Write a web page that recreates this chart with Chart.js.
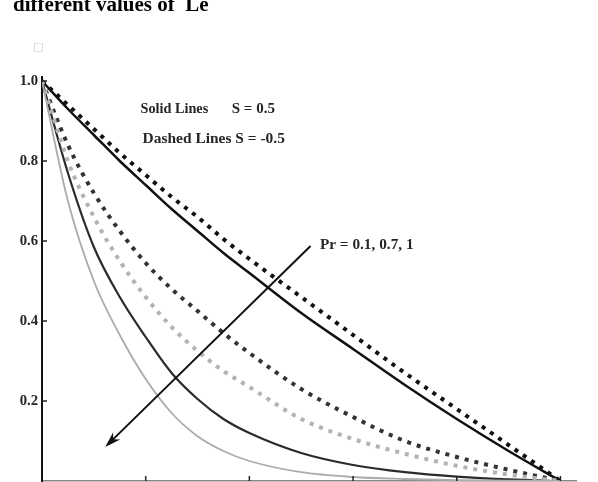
<!DOCTYPE html>
<html>
<head>
<meta charset="utf-8">
<script src="https://cdn.jsdelivr.net/npm/chart.js@4/dist/chart.umd.min.js"></script>
<style>
  html, body { margin: 0; padding: 0; background: #fff; }
  #wrap { width: 598px; height: 482px; position: relative; }
</style>
</head>
<body>
<div id="wrap"><canvas id="profileChart"></canvas></div>
<script>
// eta values where the curves were read
const etaValues = [0, 0.25, 0.5, 0.75, 1, 1.25, 1.5, 1.75, 2, 2.5, 3, 3.5, 4, 4.5, 5];

// S = 0.5 (solid lines), Pr = 0.1, 0.7, 1
const solidPr01 = [1.0, 0.93, 0.865, 0.80, 0.74, 0.68, 0.625, 0.57, 0.52, 0.42, 0.33, 0.24, 0.155, 0.075, 0];
const solidPr07 = [1.0, 0.77, 0.585, 0.46, 0.36, 0.27, 0.205, 0.155, 0.12, 0.07, 0.04, 0.022, 0.011, 0.004, 0];
const solidPr1  = [1.0, 0.70, 0.50, 0.365, 0.255, 0.17, 0.112, 0.075, 0.05, 0.022, 0.01, 0.005, 0.002, 0.001, 0];

// S = -0.5 (dashed lines), Pr = 0.1, 0.7, 1
const dashedPr01 = [1.0, 0.94, 0.88, 0.82, 0.765, 0.71, 0.66, 0.605, 0.555, 0.46, 0.365, 0.27, 0.18, 0.09, 0];
const dashedPr07 = [1.0, 0.84, 0.72, 0.625, 0.545, 0.48, 0.425, 0.37, 0.32, 0.23, 0.16, 0.10, 0.06, 0.028, 0];
const dashedPr1  = [1.0, 0.80, 0.66, 0.55, 0.46, 0.385, 0.325, 0.275, 0.235, 0.155, 0.105, 0.068, 0.038, 0.016, 0];

const yTickValues = [0.2, 0.4, 0.6, 0.8, 1.0];
const xTickValues = [1, 2, 3, 4, 5];

function toPoints(values) {
    return etaValues.map(function(x, i) { return { x: x, y: values[i] }; });
}

function makeSet(label, values, color, width, dashed) {
    return {
        label: label,
        data: toPoints(values),
        borderColor: color,
        borderWidth: width,
        borderDash: dashed ? [4, 6] : [],
        pointRadius: 0,
        fill: false,
        cubicInterpolationMode: 'monotone'
    };
}

// bold serif text, slightly narrowed like the original figure
function boldText(ctx, txt, px, py, size, sx, align) {
    ctx.save();
    ctx.translate(px, py);
    ctx.scale(sx, 1);
    ctx.font = 'bold ' + size + 'px "Liberation Serif", serif';
    ctx.fillStyle = '#262626';
    ctx.textBaseline = 'middle';
    ctx.textAlign = align || 'left';
    ctx.fillText(txt, 0, 0);
    ctx.restore();
}

// tick labels, arrow, labels and small axis ticks
const extras = {
    id: 'extras',
    afterDraw(c) {
        const ctx = c.ctx;
        const xs = c.scales.x, ys = c.scales.y;
        const area = c.chartArea;
        ctx.save();

        // y tick labels and inner ticks
        ctx.strokeStyle = '#222';
        ctx.lineWidth = 1.5;
        yTickValues.forEach(function(v) {
            const py = ys.getPixelForValue(v);
            ctx.beginPath(); ctx.moveTo(area.left, py); ctx.lineTo(area.left + 5, py); ctx.stroke();
            boldText(ctx, v.toFixed(1), area.left - 4, py, 14, 1.05, 'right');
        });
        xTickValues.forEach(function(v) {
            const px = xs.getPixelForValue(v);
            ctx.beginPath(); ctx.moveTo(px, area.bottom); ctx.lineTo(px, area.bottom - 5); ctx.stroke();
        });

        // arrow
        const x0 = xs.getPixelForValue(2.59), y0 = ys.getPixelForValue(0.5875);
        const x1 = xs.getPixelForValue(0.61), y1 = ys.getPixelForValue(0.085);
        const ang = Math.atan2(y1 - y0, x1 - x0);
        ctx.strokeStyle = '#111';
        ctx.lineWidth = 2;
        ctx.beginPath(); ctx.moveTo(x0, y0); ctx.lineTo(x1 - 8 * Math.cos(ang), y1 - 8 * Math.sin(ang)); ctx.stroke();
        ctx.fillStyle = '#111';
        ctx.beginPath();
        ctx.moveTo(x1, y1);
        ctx.lineTo(x1 - 16 * Math.cos(ang) + 5 * Math.sin(ang), y1 - 16 * Math.sin(ang) - 5 * Math.cos(ang));
        ctx.lineTo(x1 - 11 * Math.cos(ang), y1 - 11 * Math.sin(ang));
        ctx.lineTo(x1 - 16 * Math.cos(ang) - 5 * Math.sin(ang), y1 - 16 * Math.sin(ang) + 5 * Math.cos(ang));
        ctx.closePath();
        ctx.fill();

        // texts
        boldText(ctx, 'Solid Lines', xs.getPixelForValue(0.95), ys.getPixelForValue(0.93), 15, 0.95);
        boldText(ctx, 'S = 0.5', xs.getPixelForValue(1.83), ys.getPixelForValue(0.93), 15, 1.0);
        boldText(ctx, 'Dashed Lines S = -0.5', xs.getPixelForValue(0.97), ys.getPixelForValue(0.855), 15, 1.03);
        boldText(ctx, 'Pr = 0.1, 0.7, 1', xs.getPixelForValue(2.68), ys.getPixelForValue(0.59), 15, 1.02);

        // cut-off caption at the top
        ctx.font = 'bold 21px "Liberation Serif", serif';
        ctx.fillStyle = '#000';
        ctx.textAlign = 'left';
        ctx.textBaseline = 'alphabetic';
        ctx.fillText('different values of  Le', 13, 11);

        // axis label box
        ctx.font = '11px "DejaVu Sans"';
        ctx.fillStyle = '#c8c8c8';
        ctx.fillText('□', 33, 50);
        ctx.restore();
    }
};

const chart = new Chart(document.getElementById('profileChart'), {
    type: 'line',
    data: {
        datasets: [
            makeSet('S = 0.5, Pr = 1', solidPr1, '#ababab', 1.8, false),
            makeSet('S = -0.5, Pr = 1', dashedPr1, '#b3b3b3', 4, true),
            makeSet('S = 0.5, Pr = 0.7', solidPr07, '#2b2b2b', 2.2, false),
            makeSet('S = -0.5, Pr = 0.7', dashedPr07, '#333', 4, true),
            makeSet('S = 0.5, Pr = 0.1', solidPr01, '#111', 2.5, false),
            makeSet('S = -0.5, Pr = 0.1', dashedPr01, '#111', 4, true)
        ]
    },
    options: {
        responsive: true,
        maintainAspectRatio: false,
        animation: false,
        layout: { padding: { left: 0, right: 22, top: 77, bottom: 1 } },
        plugins: { legend: { display: false }, tooltip: { enabled: false } },
        scales: {
            x: {
                type: 'linear',
                min: 0,
                max: 5.15,
                ticks: { display: false },
                grid: { display: false, drawTicks: false },
                border: { display: true, color: '#888', width: 1.5 },
                afterFit: function(s) { s.height = 0; }
            },
            y: {
                min: 0,
                max: 1.01,
                ticks: { display: false },
                grid: { display: false, drawTicks: false },
                border: { display: true, color: '#111', width: 2 },
                afterFit: function(s) { s.width = 42; }
            }
        }
    },
    plugins: [extras]
});
</script>
</body>
</html>
